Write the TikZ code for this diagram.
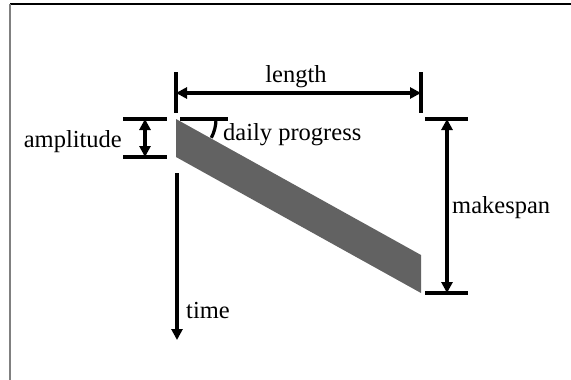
\documentclass[tikz,border=0pt]{standalone}
\usepackage{fontspec}
\setmainfont{Liberation Serif}
\usetikzlibrary{arrows.meta}
\begin{document}
\begin{tikzpicture}[x=1pt,y=-1pt,
  lbl/.style={inner sep=0pt,font=\fontsize{24.5}{29}\selectfont},
  tickline/.style={line width=3.2pt,black},
  dimarrow/.style={line width=3.2pt,black,{Triangle[length=11pt,width=11pt]}-{Triangle[length=11pt,width=11pt]}},
  timearrow/.style={line width=3.2pt,black,-{Triangle[length=11pt,width=11pt]}}]
\useasboundingbox (0,0) rectangle (571,380);
% frame
\draw[line width=1.5pt,black] (10,4) -- (571,4);
\draw[line width=2pt,gray] (10,4) -- (10,380);
% band
\coordinate (p1) at (176,119);
\coordinate (p2) at (176,157);
\coordinate (p3) at (421,293);
\coordinate (p4) at (421,255);
\fill[fill={rgb,255:red,98;green,98;blue,98}] (p1) -- (p2) -- (p3) -- (p4) -- cycle;
% length
\coordinate (l1a) at (176,72); \coordinate (l1b) at (176,113);
\coordinate (l2a) at (421,72); \coordinate (l2b) at (421,113);
\coordinate (la) at (176,93); \coordinate (lb) at (421,93);
\draw[tickline] (l1a) -- (l1b);
\draw[tickline] (l2a) -- (l2b);
\draw[dimarrow] (la) -- (lb);
\node[lbl,anchor=base] (length) at (296,82) {length};
% amplitude
\coordinate (a1a) at (123,119); \coordinate (a1b) at (167,119);
\coordinate (a2a) at (123,157); \coordinate (a2b) at (167,157);
\coordinate (aa) at (145,119); \coordinate (ab) at (145,157);
\draw[tickline] (a1a) -- (a1b);
\draw[tickline] (a2a) -- (a2b);
\draw[dimarrow] (aa) -- (ab);
\node[lbl,anchor=base east] (amplitude) at (122,147) {amplitude};
% daily progress
\coordinate (d1) at (180,119); \coordinate (d2) at (228,119);
\coordinate (darc) at (216,119);
\draw[tickline] (d1) -- (d2);
\draw[line width=3.2pt] (darc) arc[start angle=0,end angle=-28,radius=40pt];
\node[lbl,anchor=base west] (daily) at (223,140) {daily progress};
% makespan
\coordinate (m1a) at (425,119); \coordinate (m1b) at (468,119);
\coordinate (m2a) at (425,293); \coordinate (m2b) at (468,293);
\coordinate (ma) at (447,119); \coordinate (mb) at (447,293);
\draw[tickline] (m1a) -- (m1b);
\draw[tickline] (m2a) -- (m2b);
\draw[dimarrow] (ma) -- (mb);
\node[lbl,anchor=base west] (makespan) at (452,213) {makespan};
% time
\coordinate (t1) at (177,173); \coordinate (t2) at (177,340);
\draw[timearrow] (t1) -- (t2);
\node[lbl,anchor=base west] (time) at (186,318) {time};
\end{tikzpicture}
\end{document}
